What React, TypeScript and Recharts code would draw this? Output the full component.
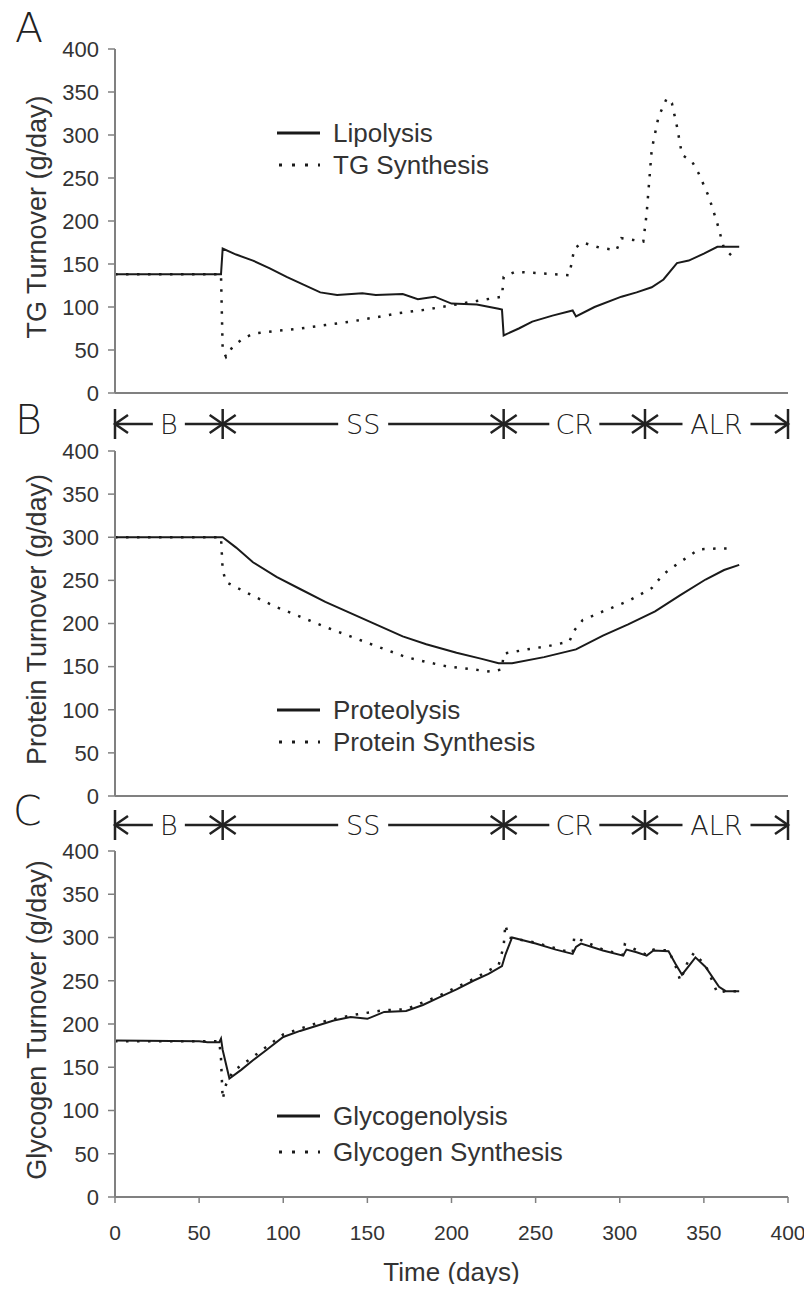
import React from 'react';
import { LineChart, Line, XAxis, YAxis, Legend, Label, ReferenceLine, ReferenceDot } from 'recharts';

const xTicks = [0, 50, 100, 150, 200, 250, 300, 350, 400];
const yTicks = [0, 50, 100, 150, 200, 250, 300, 350, 400];

// [day, g/day]
const lipolysis = [
  [0, 138], [63, 138], [64, 168], [72, 161], [82, 154], [92, 145], [102, 135], [112, 126],
  [122, 117], [132, 114], [147, 116], [155, 114], [171, 115], [180, 109], [190, 112], [200, 104],
  [215, 103], [228, 98], [230, 97], [231, 67], [240, 75], [248, 83], [260, 90], [272, 96],
  [274, 89], [285, 100], [301, 112], [310, 117], [319, 123], [326, 132], [334, 151], [341, 154],
  [350, 162], [358, 170], [371, 170],
];
const tgSynthesis = [
  [0, 138], [63, 138], [64, 50], [66, 42], [70, 54], [76, 63], [82, 69], [95, 72], [110, 75],
  [125, 79], [140, 83], [155, 88], [169, 93], [185, 97], [200, 102], [215, 107], [230, 112],
  [231, 135], [238, 141], [255, 139], [270, 137], [273, 168], [278, 175], [288, 169], [298, 166],
  [301, 180], [308, 178], [314, 176], [316, 209], [319, 283], [323, 321], [328, 343], [331, 337],
  [334, 310], [337, 277], [343, 269], [347, 255], [353, 228], [358, 197], [362, 168], [368, 157],
];
const proteolysis = [
  [0, 300], [64, 300], [72, 288], [82, 271], [96, 254], [110, 240], [125, 225], [140, 212],
  [155, 199], [171, 185], [185, 176], [203, 166], [218, 159], [228, 154], [236, 154], [255, 161],
  [274, 170], [290, 186], [305, 199], [321, 214], [336, 233], [351, 251], [362, 262], [371, 268],
];
const proteinSynthesis = [
  [0, 300], [63, 300], [64, 262], [66, 248], [74, 240], [82, 232], [96, 219], [110, 208],
  [125, 196], [140, 185], [155, 174], [173, 161], [186, 155], [198, 150], [212, 147], [224, 144],
  [230, 147], [231, 165], [245, 170], [258, 174], [270, 179], [273, 192], [278, 204], [290, 214],
  [305, 226], [319, 241], [325, 255], [329, 262], [335, 270], [341, 278], [347, 286], [358, 287],
  [368, 287],
];
const glycogenolysis = [
  [0, 181], [50, 180], [55, 179], [62, 179], [63, 183], [64, 170], [68, 137], [75, 147], [82, 158],
  [90, 170], [100, 185], [110, 192], [120, 198], [130, 204], [140, 208], [150, 206], [160, 214],
  [173, 215], [183, 222], [193, 231], [203, 240], [213, 250], [222, 258], [230, 267], [232, 280],
  [236, 300], [250, 293], [262, 286], [272, 281], [274, 289], [277, 293], [290, 285], [302, 279],
  [304, 286], [310, 283], [316, 279], [320, 285], [329, 284], [333, 270], [337, 257], [341, 267],
  [345, 277], [351, 266], [359, 243], [363, 238], [371, 238],
];
const glycogenSynthesis = [
  [0, 180], [62, 180], [63, 160], [64, 113], [66, 130], [70, 145], [82, 162], [100, 188],
  [120, 201], [140, 210], [160, 216], [173, 217], [193, 233], [213, 252], [228, 268], [231, 290],
  [232, 315], [234, 300], [250, 294], [272, 282], [273, 301], [276, 298], [290, 286], [302, 280],
  [303, 292], [306, 289], [316, 280], [320, 286], [329, 285], [333, 268], [336, 250], [340, 270],
  [344, 282], [351, 268], [358, 236], [363, 238], [371, 238],
];

const phaseBounds = [0, 64, 231, 315, 400];
const phaseNames = ['B', 'SS', 'CR', 'ALR'];

const legendA = ['Lipolysis', 'TG Synthesis'];
const legendB = ['Proteolysis', 'Protein Synthesis'];
const legendC = ['Glycogenolysis', 'Glycogen Synthesis'];

const FONT = '"Liberation Sans", Arial, sans-serif';
const THIN = '"DejaVu Sans", sans-serif';
const INK = '#1a1a1a';
const TEXT = '#333';
const AXIS = '#808080';
const W = 800;
const RIGHT = 20;

const toPoints = (arr: number[][]) => arr.map(([d, v]) => ({ d, v }));

const renderLegend = (names: string[], rowH: number) => () => (
  <div>
    {names.map((n, i) => (
      <div key={n} style={{ display: 'flex', alignItems: 'center', height: rowH }}>
        <svg width={43} height={8}>
          <line x1={0} y1={4} x2={43} y2={4} stroke={INK} strokeWidth={3}
            strokeDasharray={i ? '3 10' : undefined} strokeDashoffset={i ? -2 : undefined} />
        </svg>
        <span style={{ marginLeft: 13, fontSize: 26, color: TEXT, fontFamily: FONT, lineHeight: 1 }}>{n}</span>
      </div>
    ))}
  </div>
);

interface PanelProps {
  top: number;
  plotH: number;
  solid: number[][];
  dotted: number[][];
  names: string[];
  yTitle: string;
  showX: boolean;
  legendTop: number;
  rowH: number;
}

const Panel = ({ top, plotH, solid, dotted, names, yTitle, showX, legendTop, rowH }: PanelProps) => {
  const xH = showX ? 90 : 20;
  return (
    <div style={{ position: 'absolute', left: 0, top }}>
      <LineChart width={W} height={14 + plotH + xH} margin={{ top: 14, right: RIGHT, left: 0, bottom: 0 }}>
        <XAxis type="number" dataKey="d" domain={[0, 400]} ticks={xTicks} height={xH}
          axisLine={{ stroke: AXIS, strokeWidth: 2 }} tickLine={{ stroke: AXIS, strokeWidth: 1.5 }}
          tickSize={6} tickMargin={22}
          tick={showX ? { fill: TEXT, fontSize: 21, fontFamily: FONT } : false}>
          {showX && (
            <Label content={(p: any) => (
              <text x={p.viewBox.x + p.viewBox.width / 2} y={p.viewBox.y + 75} textAnchor="middle"
                dominantBaseline="central" fill={TEXT} fontSize={26} fontFamily={FONT}>Time (days)</text>
            )} />
          )}
        </XAxis>
        <YAxis type="number" domain={[0, 400]} ticks={yTicks} width={107} interval={0}
          axisLine={{ stroke: AXIS, strokeWidth: 2 }} tickLine={{ stroke: AXIS, strokeWidth: 1.5 }}
          tickSize={7} tickMargin={9} tick={{ fill: TEXT, fontSize: 22, fontFamily: FONT }}>
          <Label content={(p: any) => {
            const x = p.viewBox.x + 29;
            const y = p.viewBox.y + p.viewBox.height / 2 - 4;
            return (
              <text x={x} y={y} transform={`rotate(-90, ${x}, ${y})`} textAnchor="middle"
                dominantBaseline="central" fill={TEXT} fontSize={27} fontFamily={FONT}>{yTitle}</text>
            );
          }} />
        </YAxis>
        <Legend layout="vertical" align="center" verticalAlign="middle"
          wrapperStyle={{ left: 269, top: legendTop, width: 'auto' }} content={renderLegend(names, rowH)} />
        <Line data={toPoints(solid)} dataKey="v" type="linear" stroke={INK} strokeWidth={2}
          dot={false} isAnimationActive={false} />
        <Line data={toPoints(dotted)} dataKey="v" type="linear" stroke={INK} strokeWidth={2.5}
          strokeDasharray="2.5 8.5" dot={false} isAnimationActive={false} />
      </LineChart>
    </div>
  );
};

const boundShape = (kind: 'start' | 'end' | 'star') => (p: any) => {
  const { cx, cy } = p;
  const s = { stroke: '#222', strokeWidth: 2.5, fill: 'none' };
  return (
    <g>
      <line x1={cx} y1={cy - 15} x2={cx} y2={cy + 15} {...s} />
      {kind !== 'start' && <polyline points={`${cx - 13},${cy - 9} ${cx},${cy} ${cx - 13},${cy + 9}`} {...s} />}
      {kind !== 'end' && <polyline points={`${cx + 13},${cy - 9} ${cx},${cy} ${cx + 13},${cy + 9}`} {...s} />}
    </g>
  );
};

const nameShape = (text: string) => (p: any) => {
  const { cx, cy } = p;
  const w = text.length * 18 + 14;
  return (
    <g>
      <rect x={cx - w / 2} y={cy - 16} width={w} height={32} fill="#fff" />
      <text x={cx} y={cy} textAnchor="middle" dominantBaseline="central" fill="#222"
        fontSize={27} fontWeight={200} fontFamily={THIN}>{text}</text>
    </g>
  );
};

const PhaseBar = ({ top }: { top: number }) => (
  <div style={{ position: 'absolute', left: 0, top }}>
    <LineChart width={W} height={40} data={phaseBounds.map((d) => ({ d }))}
      margin={{ top: 0, right: RIGHT, left: 107, bottom: 0 }}>
      <XAxis type="number" dataKey="d" domain={[0, 400]} allowDataOverflow hide />
      <YAxis type="number" dataKey="d" domain={[-1, 1]} allowDataOverflow hide />
      <ReferenceLine y={0} stroke="#222" strokeWidth={2.5} ifOverflow="visible" />
      {phaseNames.map((n, i) => (
        <ReferenceDot key={n} x={(phaseBounds[i] + phaseBounds[i + 1]) / 2} y={0}
          ifOverflow="visible" shape={nameShape(n)} />
      ))}
      {phaseBounds.map((b, i) => (
        <ReferenceDot key={b} x={b} y={0} ifOverflow="visible"
          shape={boundShape(i === 0 ? 'start' : i === phaseBounds.length - 1 ? 'end' : 'star')} />
      ))}
    </LineChart>
  </div>
);

const Letter = ({ ch, left, top }: { ch: string; left: number; top: number }) => (
  <div style={{ position: 'absolute', left, top, fontSize: 41, lineHeight: 1, fontFamily: THIN,
    fontWeight: 200, color: '#222' }}>{ch}</div>
);

export default function App() {
  return (
    <div style={{ position: 'relative', width: 796, height: 1276 }}>
      <Panel top={27} plotH={344} solid={lipolysis} dotted={tgSynthesis} names={legendA}
        yTitle="TG Turnover (g/day)" showX={false} legendTop={82} rowH={32} />
      <Panel top={429} plotH={345} solid={proteolysis} dotted={proteinSynthesis} names={legendB}
        yTitle="Protein Turnover (g/day)" showX={false} legendTop={257} rowH={32} />
      <Panel top={829} plotH={346} solid={glycogenolysis} dotted={glycogenSynthesis} names={legendC}
        yTitle="Glycogen Turnover (g/day)" showX legendTop={261} rowH={36} />
      <PhaseBar top={396} />
      <PhaseBar top={797} />
      <Letter ch="A" left={7} top={0} />
      <Letter ch="B" left={7} top={392} />
      <Letter ch="C" left={5} top={783} />
    </div>
  );
}
